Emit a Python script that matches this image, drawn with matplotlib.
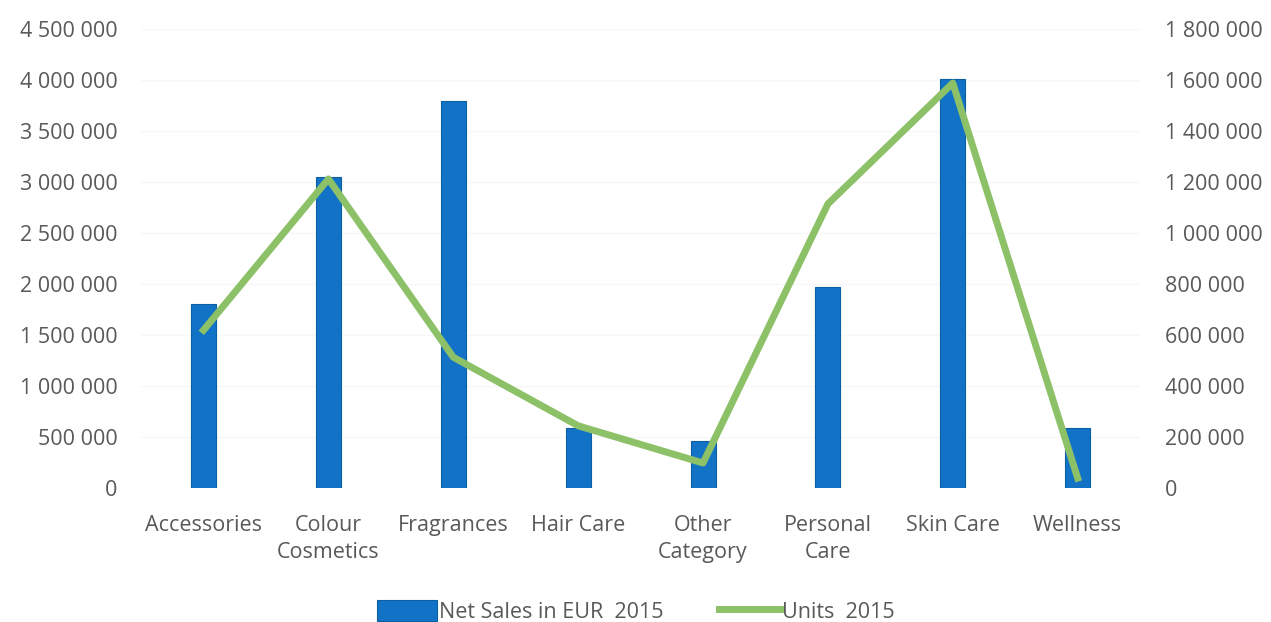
import matplotlib.pyplot as plt
import numpy as np
from matplotlib.ticker import FuncFormatter

categories = ['Accessories', 'Colour\nCosmetics', 'Fragrances', 'Hair Care',
              'Other\nCategory', 'Personal\nCare', 'Skin Care', 'Wellness']
net_sales = [1810000, 3050000, 3800000, 590000, 460000, 1970000, 4010000, 590000]
units = [620000, 1213000, 514000, 245000, 99000, 1115000, 1589000, 40000]

plt.rcParams['font.family'] = ['Open Sans', 'DejaVu Sans']
grey = '#595959'

def spaced(v, pos):
    return f'{int(v):,}'.replace(',', ' ')

fig, ax = plt.subplots(figsize=(12.71, 6.22), dpi=100)
fig.subplots_adjust(left=0.111, right=0.897, top=0.953, bottom=0.215)
x = np.arange(len(categories))

ax.bar(x, net_sales, width=0.2, color='#1273c6', edgecolor='#0d5fa3',
       linewidth=0.8, label='Net Sales in EUR  2015', zorder=2)
ax.set_ylim(0, 4500000)
ax.set_yticks(np.arange(0, 4500001, 500000))
ax.yaxis.set_major_formatter(FuncFormatter(spaced))
ax.set_xlim(-0.5, len(categories) - 0.5)
ax.set_xticks(x)
ax.set_xticklabels(categories, fontsize=15.5, color=grey, linespacing=1.4)
ax.grid(axis='y', color='#f7f7f7', linewidth=1, zorder=0)

ax2 = ax.twinx()
ax2.plot(x, units, color='#8cc168', linewidth=5, label='Units  2015',
         solid_joinstyle='round', zorder=3)
ax2.set_ylim(0, 1800000)
ax2.set_yticks(np.arange(0, 1800001, 200000))
ax2.yaxis.set_major_formatter(FuncFormatter(spaced))

for a in (ax, ax2):
    for s in a.spines.values():
        s.set_visible(False)
    a.tick_params(length=0, labelsize=15.5, labelcolor=grey)
ax.tick_params(axis='y', pad=17)
ax.tick_params(axis='x', pad=19)
ax2.tick_params(axis='y', pad=18)

h1, l1 = ax.get_legend_handles_labels()
h2, l2 = ax2.get_legend_handles_labels()
fig.legend(h1 + h2, l1 + l2, loc='lower center', ncol=2, frameon=False,
           fontsize=15.5, labelcolor=grey, bbox_to_anchor=(0.5, -0.033),
           handlelength=2.8, handleheight=1.1, columnspacing=2.6,
           handletextpad=0.1)

fig.savefig('out.png', dpi=100)
